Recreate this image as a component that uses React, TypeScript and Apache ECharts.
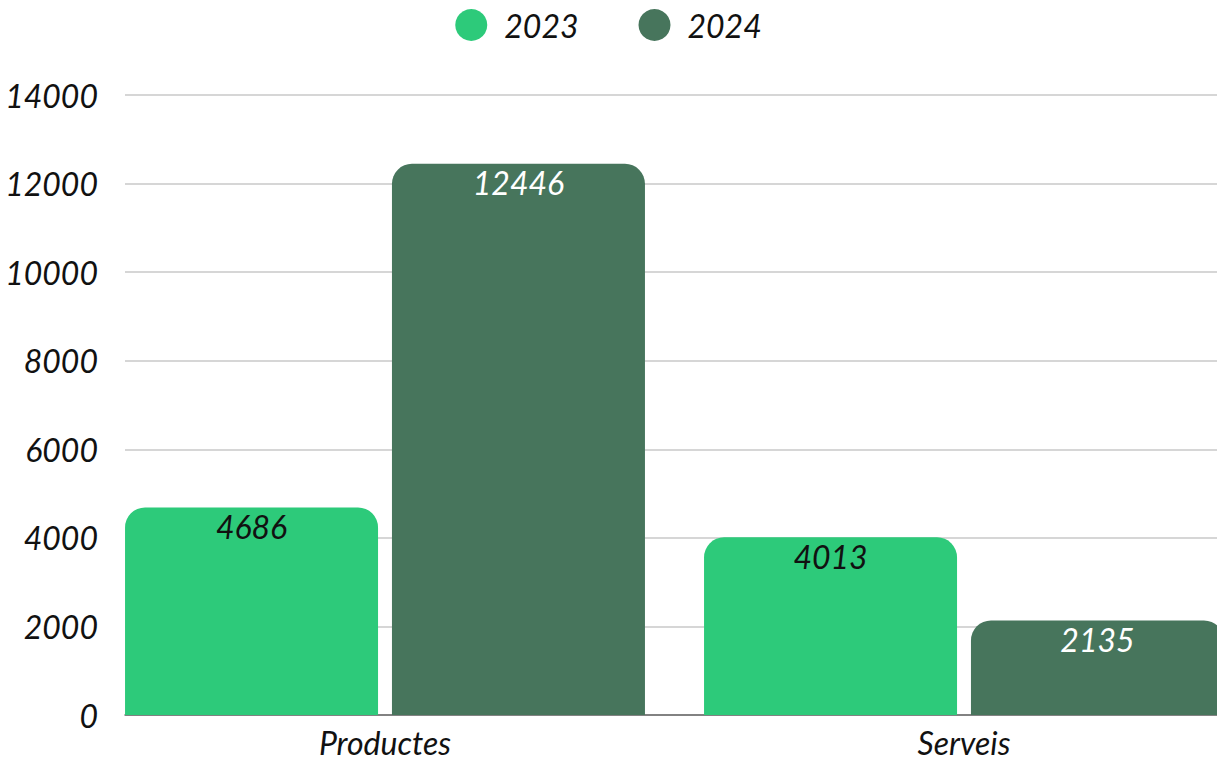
import React, { useEffect, useRef } from "react";
import * as echarts from "echarts";

const categories = ["Productes", "Serveis"];
const seriesNames = ["2023", "2024"];
const values2023 = [4686, 4013];
const values2024 = [12446, 2135];
const yTicks = { min: 0, max: 14000, interval: 2000 };

const FONT = "Lato";

export default function App() {
  const ref = useRef<HTMLDivElement>(null);
  useEffect(() => {
    document.body.style.margin = "0";
    const chart = echarts.init(ref.current!, null, { renderer: "svg" });
    const labelText = { fontFamily: FONT, fontStyle: "italic", fontSize: 32 };
    chart.setOption({
      animation: false,
      legend: {
        data: seriesNames,
        top: 4,
        left: "center",
        icon: "circle",
        itemWidth: 32,
        itemHeight: 32,
        itemGap: 60,
        textStyle: { ...labelText, color: "#111", padding: [0, 0, 0, 12] },
      },
      grid: [
        { left: 125, right: 0, top: 95, height: 620 },
        { left: 385, right: 253, top: 95, height: 620 },
      ],
      xAxis: [
        {
          type: "category",
          gridIndex: 0,
          data: categories,
          axisLabel: { show: false },
          axisTick: { show: false },
          axisLine: { show: true, lineStyle: { color: "#666", width: 1.5 } },
        },
        {
          type: "category",
          gridIndex: 1,
          data: categories,
          boundaryGap: false,
          axisLabel: { ...labelText, color: "#111", margin: 11 },
          axisTick: { show: false },
          axisLine: { show: false },
          splitLine: { show: false },
        },
      ],
      yAxis: [
        {
          type: "value",
          gridIndex: 0,
          min: yTicks.min,
          max: yTicks.max,
          interval: yTicks.interval,
          axisLabel: {
            ...labelText,
            color: "#111",
            margin: 27,
            formatter: (v: number) => String(v),
          },
          splitLine: { lineStyle: { color: "#c8c8c8", width: 1.5 } },
          axisLine: { show: false },
          axisTick: { show: false },
        },
        {
          type: "value",
          gridIndex: 1,
          min: yTicks.min,
          max: yTicks.max,
          interval: yTicks.interval,
          show: false,
        },
      ],
      series: [
        {
          name: seriesNames[0],
          type: "bar",
          xAxisIndex: 1,
          yAxisIndex: 1,
          data: values2023,
          clip: false,
          barWidth: 253,
          barGap: "5.5%",
          itemStyle: { color: "#2dca7a", borderRadius: [20, 20, 0, 0] },
          label: {
            show: true,
            position: "insideTop",
            distance: 3,
            ...labelText,
            color: "#111",
          },
        },
        {
          name: seriesNames[1],
          type: "bar",
          xAxisIndex: 1,
          yAxisIndex: 1,
          data: values2024,
          clip: false,
          barWidth: 253,
          itemStyle: { color: "#47755c", borderRadius: [20, 20, 0, 0] },
          label: {
            show: true,
            position: "insideTop",
            distance: 3,
            ...labelText,
            color: "#fff",
          },
        },
      ],
    });
    return () => chart.dispose();
  }, []);
  return <div ref={ref} style={{ width: 1217, height: 761 }} />;
}
